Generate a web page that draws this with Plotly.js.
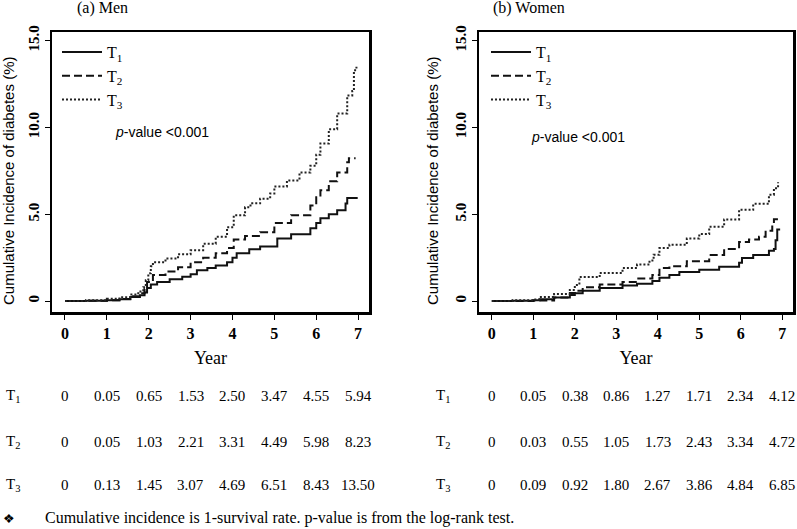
<!DOCTYPE html>
<html>
<head>
<meta charset="utf-8">
<script src="https://cdn.plot.ly/plotly-3.0.1.min.js"></script>
<style>html,body{margin:0;padding:0;background:#fff;}#chart{width:797px;height:529px;}</style>
</head>
<body>
<div id="chart"></div>
<script>
// ---------- Data ----------
const groupNames = ['T<sub>1</sub>', 'T<sub>2</sub>', 'T<sub>3</sub>'];
const tableYears = [0, 1, 2, 3, 4, 5, 6, 7];

// Men curves (year, cumulative incidence %)
const menT1x = [0, 0.5, 1.0, 1.3, 1.56, 1.79, 1.9, 1.96, 2.05, 2.2, 2.5, 2.8, 3.0, 3.15, 3.4, 3.6, 3.87, 4.0, 4.1, 4.4, 4.66, 5.07, 5.4, 5.86, 6.0, 6.1, 6.3, 6.5, 6.7, 6.74, 6.99];
const menT1y = [0, 0.02, 0.05, 0.1, 0.23, 0.34, 0.5, 0.75, 0.95, 1.1, 1.25, 1.4, 1.55, 1.78, 1.9, 2.05, 2.24, 2.5, 2.75, 2.98, 3.15, 3.6, 3.85, 4.2, 4.5, 4.77, 5.0, 5.23, 5.62, 5.94, 5.94];
const menT2x = [0, 0.5, 1.0, 1.3, 1.56, 1.8, 1.9, 1.96, 2.1, 2.4, 2.7, 3.0, 3.3, 3.6, 3.87, 4.03, 4.3, 4.66, 5.0, 5.4, 5.86, 6.0, 6.1, 6.3, 6.5, 6.74, 6.78, 6.94];
const menT2y = [0, 0.02, 0.05, 0.12, 0.28, 0.45, 0.7, 1.1, 1.5, 1.7, 1.95, 2.24, 2.5, 2.75, 3.05, 3.55, 3.75, 3.97, 4.5, 4.95, 5.5, 5.98, 6.38, 6.9, 7.4, 8.0, 8.23, 8.23];
const menT3x = [0, 0.5, 1.0, 1.3, 1.56, 1.75, 1.87, 1.93, 1.99, 2.05, 2.1, 2.4, 2.7, 3.0, 3.3, 3.6, 3.87, 4.03, 4.3, 4.43, 4.66, 4.9, 5.0, 5.3, 5.6, 5.86, 6.0, 6.1, 6.3, 6.5, 6.74, 6.86, 6.9, 6.96];
const menT3y = [0, 0.05, 0.13, 0.22, 0.38, 0.55, 0.8, 1.2, 1.6, 2.0, 2.24, 2.45, 2.7, 2.93, 3.3, 3.7, 4.25, 4.94, 5.4, 5.63, 5.9, 6.2, 6.6, 6.95, 7.4, 7.8, 8.43, 9.08, 9.9, 10.8, 11.84, 12.1, 13.3, 13.5];

// Women curves
const womenT1x = [0, 0.5, 1.0, 1.15, 1.5, 1.88, 2.0, 2.19, 2.6, 3.15, 3.5, 3.87, 4.04, 4.28, 4.52, 5.0, 5.48, 5.96, 6.03, 6.3, 6.68, 6.8, 6.84, 6.88, 6.95];
const womenT1y = [0, 0.02, 0.05, 0.1, 0.2, 0.35, 0.45, 0.6, 0.75, 0.9, 1.0, 1.15, 1.35, 1.5, 1.68, 1.8, 1.97, 2.2, 2.48, 2.65, 2.9, 3.0, 3.5, 4.12, 4.12];
const womenT2x = [0, 0.5, 1.0, 1.5, 1.88, 2.0, 2.19, 2.6, 3.15, 3.5, 3.87, 4.04, 4.28, 4.7, 5.24, 5.6, 5.96, 6.2, 6.44, 6.6, 6.76, 6.8, 6.94];
const womenT2y = [0, 0.01, 0.03, 0.2, 0.46, 0.6, 0.8, 0.95, 1.1, 1.3, 1.5, 1.9, 2.0, 2.3, 2.66, 3.0, 3.4, 3.55, 3.7, 4.05, 4.45, 4.72, 4.72];
const womenT3x = [0, 0.5, 1.0, 1.15, 1.5, 1.88, 2.0, 2.11, 2.6, 3.15, 3.5, 3.8, 3.9, 4.04, 4.28, 4.7, 5.0, 5.24, 5.6, 5.96, 6.3, 6.68, 6.8, 6.9];
const womenT3y = [0, 0.04, 0.09, 0.23, 0.4, 0.64, 0.92, 1.39, 1.62, 1.9, 2.1, 2.33, 2.67, 3.06, 3.24, 3.6, 3.86, 4.28, 4.7, 5.26, 5.6, 6.13, 6.5, 6.85];

// Table values at each year
const menTableT1 = [0, 0.05, 0.65, 1.53, 2.50, 3.47, 4.55, 5.94];
const menTableT2 = [0, 0.05, 1.03, 2.21, 3.31, 4.49, 5.98, 8.23];
const menTableT3 = [0, 0.13, 1.45, 3.07, 4.69, 6.51, 8.43, 13.50];
const womenTableT1 = [0, 0.05, 0.38, 0.86, 1.27, 1.71, 2.34, 4.12];
const womenTableT2 = [0, 0.03, 0.55, 1.05, 1.73, 2.43, 3.34, 4.72];
const womenTableT3 = [0, 0.09, 0.92, 1.80, 2.67, 3.86, 4.84, 6.85];

const xTickVals = [0, 1, 2, 3, 4, 5, 6, 7];
const xTickText = ['0', '1', '2', '3', '4', '5', '6', '7'];
const yTickVals = [0, 5, 10, 15];
const yTickText = ['0', '5.0', '10.0', '15.0'];

// ---------- Styling ----------
const SERIF = 'Liberation Serif, Times New Roman, serif';
const SANS = 'Liberation Sans, Arial, sans-serif';
const W = 797, H = 529;
const px = v => v / W;
const py = v => 1 - v / H;

const dashes = ['solid', '8px,4px', '2px,2px'];
const widths = [2, 2, 2];
const colors = ['#111', '#111', '#222'];

const menSeries = [[menT1x, menT1y], [menT2x, menT2y], [menT3x, menT3y]];
const womenSeries = [[womenT1x, womenT1y], [womenT2x, womenT2y], [womenT3x, womenT3y]];

const traces = [];
menSeries.forEach((s, i) => traces.push({
  x: s[0], y: s[1], type: 'scatter', mode: 'lines', name: groupNames[i],
  line: {shape: 'hv', color: colors[i], width: widths[i], dash: dashes[i]},
  xaxis: 'x', yaxis: 'y', legend: 'legend', hoverinfo: 'skip'
}));
womenSeries.forEach((s, i) => traces.push({
  x: s[0], y: s[1], type: 'scatter', mode: 'lines', name: groupNames[i],
  line: {shape: 'hv', color: colors[i], width: widths[i], dash: dashes[i]},
  xaxis: 'x2', yaxis: 'y2', legend: 'legend2', hoverinfo: 'skip'
}));

function xAxis(domain) {
  return {
    domain: domain, range: [-0.31, 7.26],
    tickvals: xTickVals, ticktext: xTickText,
    ticks: 'outside', ticklen: 5, tickwidth: 1, tickcolor: '#000',
    showline: true, mirror: true, linecolor: '#000', linewidth: 2.5,
    showgrid: false, zeroline: false,
    tickfont: {family: SERIF, size: 16, color: '#000', weight: 'bold'},
    title: {text: 'Year', font: {family: SERIF, size: 18, color: '#000'}, standoff: 11},
    fixedrange: true
  };
}
function yAxis(domain) {
  return {
    domain: domain, range: [-0.63, 15.5],
    tickvals: yTickVals, ticktext: yTickText, tickangle: -90,
    ticks: 'outside', ticklen: 5, tickwidth: 1, tickcolor: '#000',
    showline: true, mirror: true, linecolor: '#000', linewidth: 2.5,
    showgrid: false, zeroline: false,
    tickfont: {family: SERIF, size: 15, color: '#000', weight: 'bold'},
    fixedrange: true
  };
}

const yDom = [py(312), py(32)];
const legendStyle = {bgcolor: 'rgba(0,0,0,0)', font: {family: SERIF, size: 16, color: '#000'},
  tracegroupgap: 0, itemwidth: 40, itemclick: false, itemdoubleclick: false,
  xanchor: 'left', yanchor: 'top'};
const layout = {
  width: W, height: H,
  margin: {l: 0, r: 0, t: 0, b: 0},
  paper_bgcolor: '#fff', plot_bgcolor: '#fff',
  font: {family: SERIF, color: '#000'},
  xaxis: Object.assign(xAxis([px(52), px(369)]), {anchor: 'y'}),
  yaxis: Object.assign(yAxis(yDom), {anchor: 'x'}),
  xaxis2: Object.assign(xAxis([px(479), px(793)]), {anchor: 'y2'}),
  yaxis2: Object.assign(yAxis(yDom), {anchor: 'x2'}),
  legend: Object.assign({x: px(57), y: py(35)}, legendStyle),
  legend2: Object.assign({x: px(486), y: py(35)}, legendStyle),
  showlegend: true,
  annotations: []
};

const ann = layout.annotations;
const txt = (text, x, y, size, extra) => Object.assign({
  text: text, xref: 'paper', yref: 'paper', x: px(x), y: py(y), showarrow: false,
  xanchor: 'center', yanchor: 'middle', font: {family: SERIF, size: size, color: '#000'}
}, extra || {});

// Panel titles
ann.push(txt('(a) Men', 102, 8, 16));
ann.push(txt('(b) Women', 529, 8, 16));
// Y-axis titles
ann.push(txt('Cumulative Incidence of diabetes (%)', 9, 181, 15, {textangle: -90, font: {family: SANS, size: 15, color: '#000'}}));
ann.push(txt('Cumulative Incidence of diabetes (%)', 433, 181, 15, {textangle: -90, font: {family: SANS, size: 15, color: '#000'}}));
// p-values
ann.push(txt('<i>p</i>-value &lt;0.001', 113, 132, 14, {xanchor: 'left', font: {family: SANS, size: 14, color: '#000'}}));
ann.push(txt('<i>p</i>-value &lt;0.001', 529, 137, 14, {xanchor: 'left', font: {family: SANS, size: 14, color: '#000'}}));

// Number-at-time tables
const rowY = [396, 442, 485];
const fmt = v => v === 0 ? '0' : v.toFixed(2);
[[menTableT1, menTableT2, menTableT3], [womenTableT1, womenTableT2, womenTableT3]].forEach((tbl, p) => {
  const xr = p === 0 ? 'x' : 'x2';
  tbl.forEach((row, r) => {
    ann.push(txt(groupNames[r], p === 0 ? 13 : 443, rowY[r], 15));
    row.forEach((v, c) => {
      ann.push({text: fmt(v), xref: xr, yref: 'paper', x: tableYears[c], y: py(rowY[r]),
        showarrow: false, xanchor: 'center', yanchor: 'middle',
        font: {family: SERIF, size: 15, color: '#000'}});
    });
  });
});

// Footnote
ann.push(txt('\u2756', 9, 518, 13));
ann.push(txt('Cumulative incidence is 1-survival rate. p-value is from the log-rank test.', 43, 518, 16, {xanchor: 'left'}));

Plotly.newPlot('chart', traces, layout, {staticPlot: true, displayModeBar: false});
</script>
</body>
</html>
